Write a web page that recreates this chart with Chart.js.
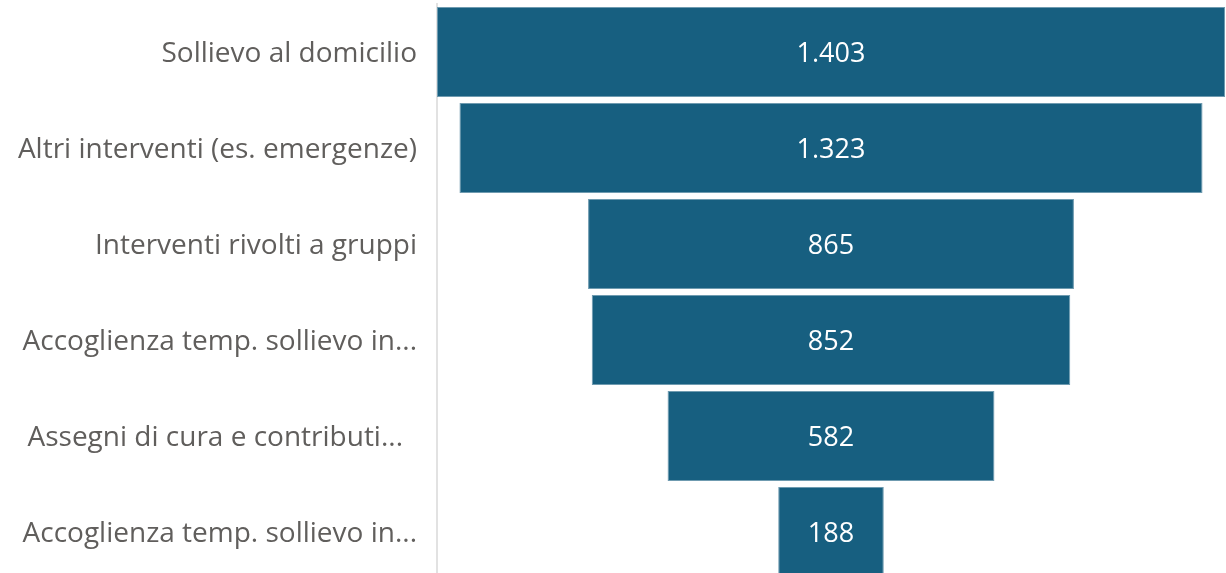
<!DOCTYPE html>
<html>
<head>
<meta charset="utf-8">
<script src="https://cdn.jsdelivr.net/npm/chart.js@4"></script>
<style>
  html, body { margin: 0; padding: 0; background: #fff; overflow: hidden; }
  #wrap { position: absolute; left: 0; top: 0; width: 1226px; height: 580px; }
</style>
</head>
<body>
<div id="wrap"><canvas id="funnel" width="1226" height="580"></canvas></div>
<script>
var categories = [
  "Sollievo al domicilio",
  "Altri interventi (es. emergenze)",
  "Interventi rivolti a gruppi",
  "Accoglienza temp. sollievo in...",
  "Assegni di cura e contributi...\u2002",
  "Accoglienza temp. sollievo in..."
];
var values = [1403, 1323, 865, 852, 582, 188];

var barColor = "#175f80";
var maxVal = Math.max.apply(null, values);

// funnel: each bar floats around zero
var floating = values.map(function (v) { return [-v / 2, v / 2]; });

function fmt(v) {
  return v.toString().replace(/\B(?=(\d{3})+(?!\d))/g, ".");
}

var valueLabels = {
  id: "valueLabels",
  afterDatasetsDraw: function (chart) {
    var ctx = chart.ctx;
    var meta = chart.getDatasetMeta(0);
    ctx.save();
    ctx.fillStyle = "#ffffff";
    ctx.font = "27px 'Open Sans', sans-serif";
    ctx.textAlign = "center";
    ctx.textBaseline = "middle";
    meta.data.forEach(function (bar, i) {
      var p = bar.getCenterPoint();
      ctx.fillText(fmt(values[i]), p.x, p.y + 2);
    });
    ctx.restore();
  }
};

var ctx = document.getElementById("funnel").getContext("2d");
var chart = new Chart(ctx, {
  type: "bar",
  data: {
    labels: categories,
    datasets: [{
      label: "Interventi",
      data: floating,
      backgroundColor: barColor,
      borderColor: "#6f9bb0",
      borderWidth: 1,
      borderSkipped: false,
      categoryPercentage: 1,
      barPercentage: 0.94
    }]
  },
  options: {
    responsive: false,
    animation: false,
    indexAxis: "y",
    layout: { padding: { top: 4, right: 1, bottom: 0, left: 0 } },
    plugins: {
      legend: { display: false },
      tooltip: { enabled: false }
    },
    scales: {
      x: {
        display: false,
        min: -maxVal / 2,
        max: maxVal / 2
      },
      y: {
        afterFit: function (scale) {
          scale.width = 437;
          scale.paddingTop = 0;
          scale.paddingBottom = 0;
        },
        grid: { display: false, drawTicks: false },
        border: { display: true, color: "#e2e2e2", width: 2 },
        ticks: {
          padding: 20,
          labelOffset: 2,
          color: "#605e5c",
          font: { family: "'Open Sans', sans-serif", size: 28 }
        }
      }
    }
  },
  plugins: [valueLabels]
});
</script>
</body>
</html>
